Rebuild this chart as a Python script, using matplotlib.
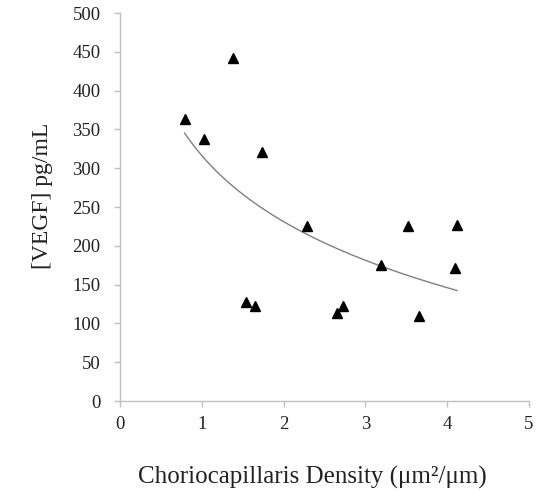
import numpy as np
import matplotlib
matplotlib.use("Agg")
import matplotlib.pyplot as plt

plt.rcParams['font.family'] = ['Liberation Serif', 'DejaVu Serif']

density = [0.79, 1.03, 1.38, 1.73, 2.29, 3.52, 4.12, 1.54, 1.65, 2.65, 2.73, 3.19, 4.09, 3.65]
vegf = [364, 338, 442, 321, 225, 225, 227, 127, 123, 114, 122, 175, 171, 110]
x_ticks = [0, 1, 2, 3, 4, 5]
y_ticks = [0, 50, 100, 150, 200, 250, 300, 350, 400, 450, 500]

x = np.array(density)
y = np.array(vegf)
b, a = np.polyfit(np.log(x), y, 1)
xf = np.linspace(x.min(), x.max(), 200)
yf = a + b * np.log(xf)

W, H = 552, 491
fig = plt.figure(figsize=(W/100, H/100), dpi=100)
ax = fig.add_axes([120/W, 1-401/H, 409/W, 388/H])

ax.plot(xf, yf, color='#808080', lw=1.0, zorder=2)
ax.plot(x, y, linestyle='none', marker='^', markersize=7.8, color='black', zorder=3)

ax.set_xlim(0, 5)
ax.set_ylim(0, 500)
ax.set_xticks(x_ticks)
ax.set_yticks(y_ticks)
for s in ['top', 'right']:
    ax.spines[s].set_visible(False)
for s in ['left', 'bottom']:
    ax.spines[s].set_color('#c0c0c0')
    ax.spines[s].set_linewidth(1.0)
ax.tick_params(axis='both', colors='#c0c0c0', labelcolor='#222222', length=4, width=1.0, labelsize=13.5)
ax.tick_params(axis='y', pad=10)
ax.tick_params(axis='x', pad=7)

fig.text(312/W, 1-477/H, 'Choriocapillaris Density (\u03bcm\u00b2/\u03bcm)', fontsize=18,
         color='#222222', ha='center', va='center')
fig.text(43/W, 1-196/H, '[VEGF] pg/mL', fontsize=17, color='#222222',
         ha='center', va='center', rotation=90)

fig.savefig('out.png', dpi=100)
